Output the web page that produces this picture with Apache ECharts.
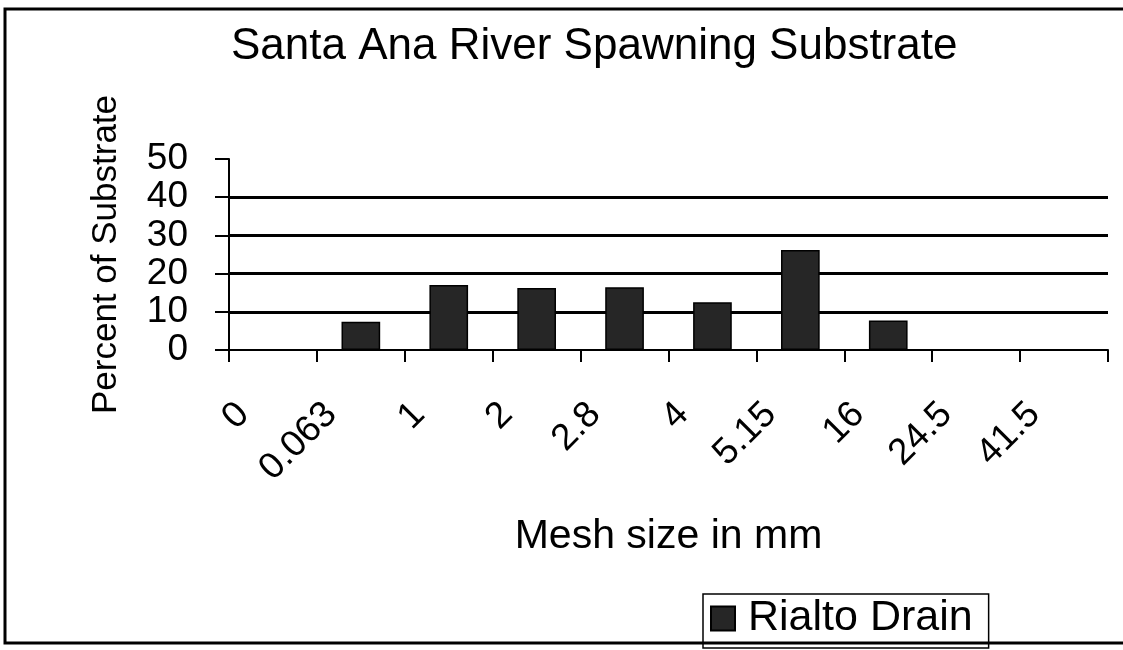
<!DOCTYPE html>
<html>
<head>
<meta charset="utf-8">
<script src="https://cdn.jsdelivr.net/npm/echarts@6/dist/echarts.min.js"></script>
<style>
  html, body { margin: 0; padding: 0; background: #fff; }
  #chart { width: 1123px; height: 650px; }
</style>
</head>
<body>
<div id="chart"></div>
<script>
const meshSizes = ["0", "0.063", "1", "2", "2.8", "4", "5.15", "16", "24.5", "41.5"];
const rialtoDrain = [0, 7.4, 17, 16.2, 16.4, 12.5, 26.2, 7.7, 0, 0];
const yTicks = { min: 0, max: 50, interval: 10 };

const font = "'Liberation Sans', Arial, sans-serif";
const chart = echarts.init(document.getElementById("chart"));

const option = {
  backgroundColor: "#fff",
  animation: false,
  title: {
    text: "Santa Ana River Spawning Substrate",
    left: 226,
    top: 20,
    textStyle: { fontFamily: font, fontSize: 44, fontWeight: "normal", color: "#000" }
  },
  legend: {
    left: 703,
    top: 594,
    orient: "horizontal",
    icon: "rect",
    itemWidth: 24,
    itemHeight: 24,
    itemGap: 6,
    padding: [3, 16, 8, 7],
    borderColor: "#000",
    borderWidth: 1.5,
    backgroundColor: "#fff",
    textStyle: { fontFamily: font, fontSize: 43, color: "#000", padding: [0, 0, 0, 8] }
  },
  grid: { left: 229, top: 159, right: 15, bottom: 300 },
  xAxis: {
    type: "category",
    data: meshSizes,
    name: "Mesh size in mm",
    nameLocation: "middle",
    nameGap: 166,
    nameTextStyle: { fontFamily: font, fontSize: 41, color: "#000" },
    axisLine: { lineStyle: { color: "#000", width: 2 } },
    axisTick: { show: true, length: 12, lineStyle: { color: "#000", width: 2 } },
    axisLabel: {
      interval: 0,
      rotate: 45,
      margin: 29,
      padding: [0, 42, 0, 0],
      fontFamily: font,
      fontSize: 37,
      color: "#000"
    }
  },
  yAxis: {
    type: "value",
    min: yTicks.min,
    max: yTicks.max,
    interval: yTicks.interval,
    name: "Percent of Substrate",
    nameLocation: "middle",
    nameGap: 105,
    nameTextStyle: { fontFamily: font, fontSize: 35, color: "#000" },
    axisLine: { show: true, lineStyle: { color: "#000", width: 2 } },
    axisTick: { show: true, length: 14, lineStyle: { color: "#000", width: 2 } },
    axisLabel: { margin: 41, fontFamily: font, fontSize: 37, color: "#000" },
    splitLine: { show: true, showMinLine: false, showMaxLine: false, lineStyle: { color: "#000", width: 3 } }
  },
  series: [
    {
      name: "Rialto Drain",
      type: "bar",
      data: rialtoDrain,
      barWidth: "44%",
      itemStyle: { color: "#262626", borderColor: "#000", borderWidth: 1.5 }
    }
  ],
  graphic: [
    {
      type: "polyline",
      shape: { points: [[1123, 9], [5, 9], [5, 643], [1123, 643]] },
      style: { stroke: "#000", lineWidth: 3, fill: null },
      z: 100
    }
  ]
};

chart.setOption(option);
window.addEventListener("resize", () => chart.resize());
</script>
</body>
</html>
